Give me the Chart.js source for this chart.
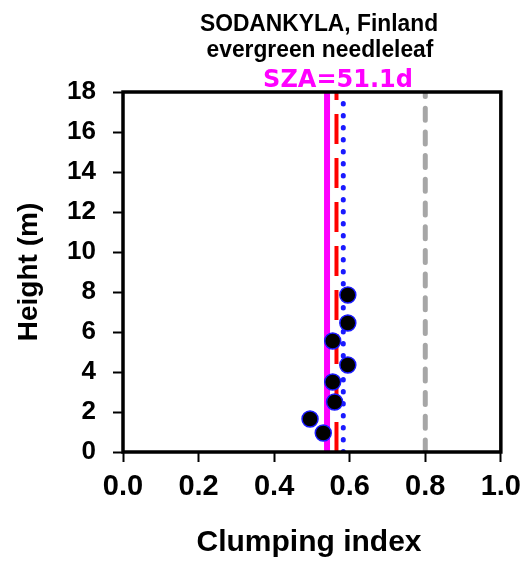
<!DOCTYPE html>
<html>
<head>
<meta charset="utf-8">
<script src="https://cdn.jsdelivr.net/npm/chart.js@4"></script>
<style>
  html, body { margin: 0; padding: 0; background: #ffffff; }
  canvas { display: block; }
</style>
</head>
<body>
<canvas id="chart" width="529" height="561"></canvas>
<script>
// Clumping index profile by height (m)
const heights  = [7.85, 6.45, 5.55, 4.35, 3.5, 2.5, 1.65, 0.95];
const clumping = [0.595, 0.595, 0.555, 0.595, 0.555, 0.56, 0.495, 0.53];

// Vertical reference values of the clumping index
const refNames  = ['SZA', 'mean', 'canopy', 'default'];
const refValues = [0.54, 0.565, 0.583, 0.8];

// Axis ranges and tick steps
const xRange = [0, 1];
const yRange = [0, 18];
const xStep = 0.2;
const yStep = 2;

// Text
const titleLines = ['SODANKYLA, Finland', 'evergreen needleleaf'];
const szaLabel = 'SZA=51.1d';
const xTitle = 'Clumping index';
const yTitle = 'Height (m)';

const SANS = '"Liberation Sans", Arial, sans-serif';

const refStyles = [
  { color: '#ff00ff', width: 6, dash: [],          cap: 'butt'  },
  { color: '#ff0000', width: 4, dash: [30, 14],    cap: 'butt'  },
  { color: '#1a1aff', width: 5, dash: [0.5, 11.5], cap: 'round' },
  { color: '#a6a6a6', width: 5, dash: [12, 11.7],  cap: 'round' }
];

const refDatasets = refValues.map((v, i) => ({
  type: 'line',
  label: refNames[i],
  data: [{ x: v, y: yRange[0] }, { x: v, y: yRange[1] }],
  borderColor: refStyles[i].color,
  borderWidth: refStyles[i].width,
  borderDash: refStyles[i].dash,
  borderCapStyle: refStyles[i].cap,
  pointRadius: 0,
  fill: false,
  clip: 0,
  order: 1 + i
}));

const pointDataset = {
  type: 'scatter',
  label: 'profile',
  data: heights.map((h, i) => ({ x: clumping[i], y: h })),
  backgroundColor: '#000000',
  borderColor: '#1a1aff',
  borderWidth: 1.5,
  pointRadius: 8,
  order: 0
};

// Frame around the plot area
const framePlugin = {
  id: 'frame',
  afterDatasetsDraw(chart) {
    const { ctx, chartArea: a } = chart;
    ctx.save();
    ctx.strokeStyle = '#000000';
    ctx.lineWidth = 3.5;
    ctx.strokeRect(a.left, a.top, a.right - a.left, a.bottom - a.top);
    ctx.restore();
  }
};

// Titles and axis titles
const textPlugin = {
  id: 'texts',
  afterDraw(chart) {
    const { ctx } = chart;
    ctx.save();
    ctx.fillStyle = '#000000';
    ctx.textAlign = 'center';
    ctx.textBaseline = 'alphabetic';

    // slightly condensed bold title
    ctx.save();
    ctx.font = 'bold 24px ' + SANS;
    ctx.translate(319, 0);
    ctx.scale(0.95, 1);
    ctx.fillText(titleLines[0], 0, 31);
    ctx.fillText(titleLines[1], 1, 57);
    ctx.restore();

    ctx.fillStyle = '#ff00ff';
    ctx.font = 'bold 24px "DejaVu Sans", sans-serif';
    ctx.fillText(szaLabel, 338, 87);

    ctx.fillStyle = '#000000';
    ctx.font = 'bold 30px ' + SANS;
    ctx.fillText(xTitle, 309, 551);

    ctx.font = 'bold 28px ' + SANS;
    ctx.translate(37, 272);
    ctx.rotate(-Math.PI / 2);
    ctx.fillText(yTitle, 0, 0);
    ctx.restore();
  }
};

const gridOpts = {
  display: true,
  drawOnChartArea: false,
  drawTicks: true,
  tickLength: 10,
  tickColor: '#000000',
  tickWidth: 2
};

new Chart(document.getElementById('chart'), {
  type: 'scatter',
  data: { datasets: [pointDataset, ...refDatasets] },
  options: {
    responsive: false,
    devicePixelRatio: 1,
    animation: false,
    layout: { padding: { left: 0, right: 28, top: 92, bottom: 0 } },
    plugins: { legend: { display: false }, tooltip: { enabled: false }, title: { display: false } },
    scales: {
      x: {
        type: 'linear',
        min: xRange[0],
        max: xRange[1],
        grid: gridOpts,
        border: { display: false },
        ticks: {
          stepSize: xStep,
          autoSkip: false,
          maxRotation: 0,
          padding: 8,
          color: '#000000',
          font: { family: SANS, size: 29, weight: 'bold' },
          callback: v => Number(v).toFixed(1)
        },
        afterFit: s => { s.height = 109; }
      },
      y: {
        type: 'linear',
        min: yRange[0],
        max: yRange[1],
        grid: gridOpts,
        border: { display: false },
        ticks: {
          stepSize: yStep,
          autoSkip: false,
          padding: 17,
          color: '#000000',
          font: { family: SANS, size: 26, weight: 'bold' },
          callback: v => String(Math.round(v))
        },
        afterFit: s => { s.width = 123; }
      }
    }
  },
  plugins: [framePlugin, textPlugin]
});
</script>
</body>
</html>
